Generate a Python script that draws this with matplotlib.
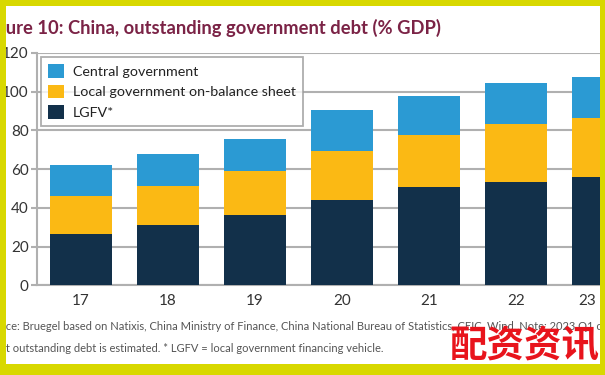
import matplotlib
matplotlib.use("Agg")
import matplotlib.pyplot as plt
import matplotlib.transforms as mtransforms
from matplotlib.patches import Rectangle

# data (% of GDP)
years = ["17", "18", "19", "20", "21", "22", "23"]
lgfv = [26.3, 31.3, 36.4, 44.3, 50.6, 53.6, 55.7]
local_gov = [20.0, 19.8, 22.4, 25.1, 27.0, 29.8, 30.8]
central_gov = [15.9, 16.6, 16.6, 20.9, 20.3, 21.0, 21.3]
yticks = [0, 20, 40, 60, 80, 100, 120]

title = "Figure 10: China, outstanding government debt (% GDP)"
source1 = ("Source: Bruegel based on Natixis, China Ministry of Finance, China National Bureau of "
           "Statistics, CEIC, Wind. Note: 2023 Q1 co")
source2 = "Latest outstanding debt is estimated. * LGFV = local government financing vehicle."
watermark = "配资资讯"

c_navy = "#12304a"
c_yellow = "#fbb914"
c_blue = "#2b9ad3"
c_grid = "#b0b0b0"
c_frame = "#d8d800"

plt.rcParams['font.family'] = ['Lato', 'DejaVu Sans']

W, H = 605, 375
fig = plt.figure(figsize=(W / 100, H / 100), dpi=100)
fig.patch.set_facecolor("white")
renderer = fig.canvas.get_renderer()

# axes extends beyond the right edge, the screenshot is cropped
left, right = 37, 647
top, bottom = 53, 285.3
ax = fig.add_axes((left / W, 1 - bottom / H, (right - left) / W, (bottom - top) / H))

x = range(len(years))
ax.bar(x, lgfv, width=0.71, color=c_navy, label="LGFV*", zorder=3)
base = [a for a in lgfv]
ax.bar(x, local_gov, width=0.71, bottom=base, color=c_yellow,
       label="Local government on-balance sheet", zorder=3)
base = [a + b for a, b in zip(lgfv, local_gov)]
ax.bar(x, central_gov, width=0.71, bottom=base, color=c_blue,
       label="Central government", zorder=3)

ax.set_xlim(-0.5, len(years) - 0.5)
ax.set_ylim(0, 120)
ax.set_yticks(yticks)
ax.set_xticks(list(x))
ax.set_xticklabels(years)
ax.yaxis.grid(True, color=c_grid, lw=1.5, zorder=0)
ax.set_axisbelow(True)
for s in ["top", "right"]:
    ax.spines[s].set_visible(False)
for s in ["left", "bottom"]:
    ax.spines[s].set_color(c_grid)
    ax.spines[s].set_linewidth(1.5)
ax.tick_params(axis="y", length=4, color=c_grid, width=1.5, labelsize=11,
               labelcolor="#333333", pad=2)
ax.tick_params(axis="x", length=0, labelsize=11, labelcolor="#333333", pad=6)

# last year label sits inside the cropped screenshot
last = ax.get_xticklabels()[-1]
last.set_transform(last.get_transform() +
                   mtransforms.ScaledTranslation(-16 / 100, 0, fig.dpi_scale_trans))

handles, labels = ax.get_legend_handles_labels()
leg = ax.legend(handles[::-1], labels[::-1], loc="upper left", fontsize=10.3,
                frameon=True, fancybox=False, borderaxespad=0.3,
                handlelength=1.1, handleheight=1.1, handletextpad=0.6,
                labelspacing=0.45, borderpad=0.5)
leg.get_frame().set_edgecolor("#9a9a9a")
leg.get_frame().set_linewidth(1.3)
for t in leg.get_texts():
    t.set_color("#222222")


def cropped_text(y, txt, hidden, size, **kw):
    # start the text left of the figure so that `hidden` is cut off
    probe = fig.text(0, 0, hidden, fontsize=size, **kw)
    w = probe.get_window_extent(renderer).width
    probe.remove()
    return fig.text((6 - w) / W, 1 - y / H, txt, ha="left", va="center",
                    fontsize=size, **kw)


cropped_text(28, title, "Fig", 13.2, fontweight="bold", color="#7b2346")
cropped_text(327, source1, "Sour", 8, color="#555555")
cropped_text(349, source2, "Lates", 8, color="#555555")

# yellow screenshot frame
for rx, ry, rw, rh in [(0, 0, 6, H), (600, 0, 5, H), (0, 0, W, 6), (0, 364, W, 11)]:
    fig.patches.append(Rectangle((rx / W, 1 - (ry + rh) / H), rw / W, rh / H,
                                 transform=fig.transFigure, facecolor=c_frame,
                                 edgecolor="none", zorder=10))

fig.text(599 / W, 1 - 346 / H, watermark, ha="right", va="center", fontsize=27,
         fontweight="bold", color="#e8141c", zorder=11,
         family=['Noto Sans CJK SC', 'DejaVu Sans'])

fig.savefig("out.png", dpi=100)
